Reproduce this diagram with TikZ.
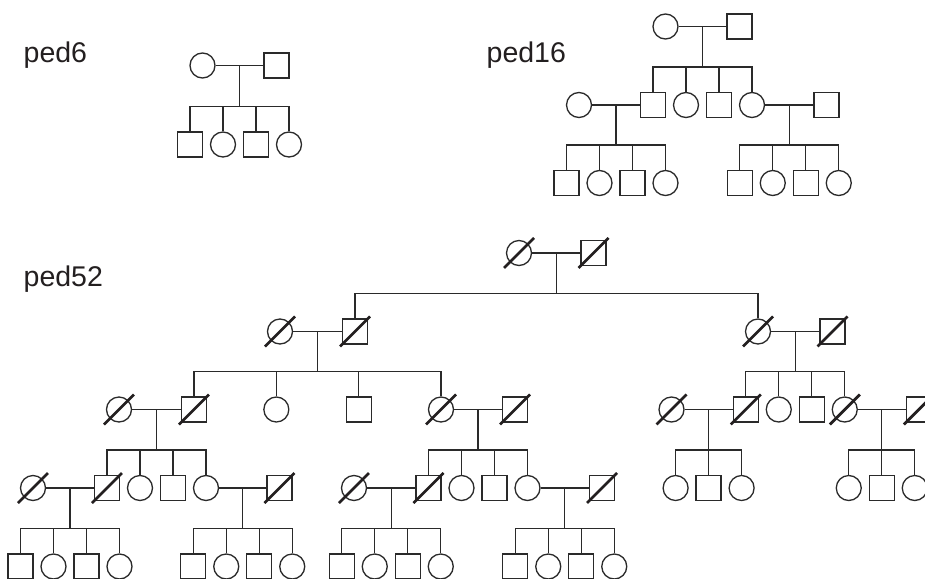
\documentclass[tikz,border=0pt]{standalone}
\usepackage{fontspec}
\setmainfont{Liberation Sans}
\usetikzlibrary{calc}
\definecolor{ink}{HTML}{231F20}
\definecolor{lne}{HTML}{2A2A2A}
\newcommand\pedfam[6]{%
  \draw[link] (#1.east) -- coordinate[midway] (#3m) (#2.west);
  \path (#4.north) ++(0,-25) coordinate (#3s);
  \draw[link] (#3m) -- (#3m |- #3s);
  \draw[link] (#4.north) -- (#3s) -| (#5.north);
  \foreach \c in {#6} {\draw[link] (\c.north) -- (\c.north |- #3s);}
}
\begin{document}
\begin{tikzpicture}[x=1pt,y=-1pt,
  link/.style={draw=lne,line width=1.35pt},
  fem/.style={circle,draw=lne,line width=1.3pt,minimum size=25pt,inner sep=0pt},
  mal/.style={rectangle,draw=lne,line width=1.3pt,minimum size=25pt,inner sep=0pt},
  slashline/.style={draw=ink,line width=2.8pt},
  lbl/.style={anchor=base west,inner sep=0pt,text=ink,font=\fontsize{28.5}{32}\selectfont}]
\useasboundingbox[fill=white] (0,0) rectangle (925,578);
% labels
\node[lbl] (t6) at (23.5,63) {ped6};
\node[lbl] (t16) at (486.5,63) {ped16};
\node[lbl] (t52) at (23.5,286.7) {ped52};
% ---------- ped6
\node[fem] (a1f) at (202.5,65.5) {};
\node[mal] (a1m) at (276.5,65.5) {};
\node[mal] (a2c1) at (190,144.5) {};
\node[fem] (a2c2) at (223,144.5) {};
\node[mal] (a2c3) at (256,144.5) {};
\node[fem] (a2c4) at (289,144.5) {};
\pedfam{a1f}{a1m}{fa}{a2c1}{a2c4}{a2c2,a2c3}
% ---------- ped16
\node[fem] (b1f) at (665.5,26.5) {};
\node[mal] (b1m) at (739.5,26.5) {};
\node[mal] (b2c1) at (653,105) {};
\node[fem] (b2c2) at (686,105) {};
\node[mal] (b2c3) at (719,105) {};
\node[fem] (b2c4) at (752,105) {};
\node[fem] (b2s1) at (579,105) {};
\node[mal] (b2s4) at (826.5,105) {};
\pedfam{b1f}{b1m}{fb}{b2c1}{b2c4}{b2c2,b2c3}
\node[mal] (b3a1) at (566.5,183) {};
\node[fem] (b3a2) at (599.5,183) {};
\node[mal] (b3a3) at (632.5,183) {};
\node[fem] (b3a4) at (665.5,183) {};
\pedfam{b2s1}{b2c1}{fba}{b3a1}{b3a4}{b3a2,b3a3}
\node[mal] (b3b1) at (739.75,183) {};
\node[fem] (b3b2) at (772.75,183) {};
\node[mal] (b3b3) at (805.75,183) {};
\node[fem] (b3b4) at (838.75,183) {};
\pedfam{b2c4}{b2s4}{fbb}{b3b1}{b3b4}{b3b2,b3b3}
% ---------- ped52
\node[fem] (g1f) at (519,253) {};
\node[mal] (g1m) at (593.5,253) {};
\node[mal] (g2a) at (355,331.5) {};
\node[fem] (g2b) at (758,331.5) {};
\node[fem] (g2af) at (280,331.5) {};
\node[mal] (g2bm) at (832.5,331.5) {};
\pedfam{g1f}{g1m}{fg}{g2a}{g2b}{}
% gen 3
\node[mal] (g3a1) at (194,409.5) {};
\node[fem] (g3a2) at (276.33,409.5) {};
\node[mal] (g3a3) at (358.67,409.5) {};
\node[fem] (g3a4) at (441,409.5) {};
\node[fem] (g3a1s) at (119,409.5) {};
\node[mal] (g3a4s) at (515,409.5) {};
\pedfam{g2af}{g2a}{fga}{g3a1}{g3a4}{g3a2,g3a3}
\node[mal] (g3b1) at (745.75,409.5) {};
\node[fem] (g3b2) at (778.75,409.5) {};
\node[mal] (g3b3) at (811.75,409.5) {};
\node[fem] (g3b4) at (844.75,409.5) {};
\node[fem] (g3b1s) at (671.5,409.5) {};
\node[mal] (g3b4s) at (918.75,409.5) {};
\pedfam{g2b}{g2bm}{fgb}{g3b1}{g3b4}{g3b2,g3b3}
% gen 4
\node[mal] (g4a1) at (107,488) {};
\node[fem] (g4a2) at (140,488) {};
\node[mal] (g4a3) at (173,488) {};
\node[fem] (g4a4) at (206,488) {};
\node[fem] (g4a1s) at (33,488) {};
\node[mal] (g4a4s) at (279.5,488) {};
\pedfam{g3a1s}{g3a1}{fgaa}{g4a1}{g4a4}{g4a2,g4a3}
\node[mal] (g4b1) at (428.5,488) {};
\node[fem] (g4b2) at (461.5,488) {};
\node[mal] (g4b3) at (494.5,488) {};
\node[fem] (g4b4) at (527.5,488) {};
\node[fem] (g4b1s) at (354,488) {};
\node[mal] (g4b4s) at (602,488) {};
\pedfam{g3a4}{g3a4s}{fgab}{g4b1}{g4b4}{g4b2,g4b3}
\node[fem] (g4c1) at (675.6,488) {};
\node[mal] (g4c2) at (708.6,488) {};
\node[fem] (g4c3) at (741.6,488) {};
\pedfam{g3b1s}{g3b1}{fgba}{g4c1}{g4c3}{g4c2}
\node[fem] (g4d1) at (848.75,488) {};
\node[mal] (g4d2) at (881.75,488) {};
\node[fem] (g4d3) at (914.75,488) {};
\pedfam{g3b4}{g3b4s}{fgbb}{g4d1}{g4d3}{g4d2}
% gen 5
\node[mal] (g5a1) at (20.5,566.5) {};
\node[fem] (g5a2) at (53.5,566.5) {};
\node[mal] (g5a3) at (86.5,566.5) {};
\node[fem] (g5a4) at (119.5,566.5) {};
\pedfam{g4a1s}{g4a1}{fh1}{g5a1}{g5a4}{g5a2,g5a3}
\node[mal] (g5b1) at (193.25,566.5) {};
\node[fem] (g5b2) at (226.25,566.5) {};
\node[mal] (g5b3) at (259.25,566.5) {};
\node[fem] (g5b4) at (292.25,566.5) {};
\pedfam{g4a4}{g4a4s}{fh2}{g5b1}{g5b4}{g5b2,g5b3}
\node[mal] (g5c1) at (341.75,566.5) {};
\node[fem] (g5c2) at (374.75,566.5) {};
\node[mal] (g5c3) at (407.75,566.5) {};
\node[fem] (g5c4) at (440.75,566.5) {};
\pedfam{g4b1s}{g4b1}{fh3}{g5c1}{g5c4}{g5c2,g5c3}
\node[mal] (g5d1) at (515.25,566.5) {};
\node[fem] (g5d2) at (548.25,566.5) {};
\node[mal] (g5d3) at (581.25,566.5) {};
\node[fem] (g5d4) at (614.25,566.5) {};
\pedfam{g4b4}{g4b4s}{fh4}{g5d1}{g5d4}{g5d2,g5d3}
% deceased marks
\foreach \n in {g1f,g1m,g2a,g2af,g2b,g2bm,g3a1,g3a1s,g3a4,g3a4s,g3b1,g3b1s,g3b4,g3b4s,g4a1,g4a1s,g4a4s,g4b1,g4b1s,g4b4s}
  \draw[slashline] ([shift={(-15pt,-15pt)}]\n.center) -- ([shift={(15pt,15pt)}]\n.center);
\end{tikzpicture}
\end{document}
